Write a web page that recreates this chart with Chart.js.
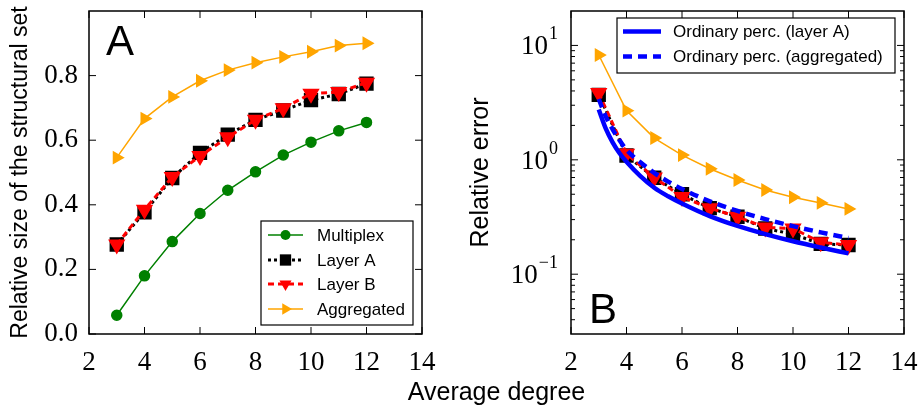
<!DOCTYPE html>
<html>
<head>
<meta charset="utf-8">
<script src="https://cdn.jsdelivr.net/npm/chart.js@4.4.1/dist/chart.umd.min.js"></script>
<style>
  body { margin: 0; background: #fff; }
  #wrap { position: relative; width: 920px; height: 410px; }
  #wrap canvas { position: absolute; top: 0; }
  #left { left: 0; }
  #right { left: 460px; }
  #xtitle { position: absolute; left: 0; width: 993px; top: 377px; text-align: center;
            font: 25px 'Liberation Sans', Arial, sans-serif; line-height: 28px; color: #000; }
</style>
</head>
<body>
<div id="wrap">
  <canvas id="left" width="460" height="410"></canvas>
  <canvas id="right" width="460" height="410"></canvas>
  <div id="xtitle">Average degree</div>
</div>
<script>
// panel A: relative size of the structural set
const degrees = [3, 4, 5, 6, 7, 8, 9, 10, 11, 12];
const sizeMultiplex = [0.058, 0.180, 0.286, 0.373, 0.445, 0.502, 0.554, 0.594, 0.629, 0.655];
const sizeLayerA = [0.277, 0.377, 0.483, 0.561, 0.617, 0.663, 0.692, 0.724, 0.743, 0.775];
const sizeLayerB = [0.277, 0.385, 0.486, 0.551, 0.609, 0.663, 0.699, 0.744, 0.749, 0.778];
const sizeAggregated = [0.546, 0.667, 0.734, 0.784, 0.817, 0.840, 0.858, 0.874, 0.893, 0.900];

// panel B: relative error
const errLayerA = [3.70, 1.09, 0.697, 0.500, 0.378, 0.318, 0.251, 0.224, 0.184, 0.180];
const errLayerB = [3.83, 1.13, 0.700, 0.474, 0.378, 0.318, 0.256, 0.251, 0.190, 0.180];
const errAggregated = [8.25, 2.69, 1.55, 1.10, 0.835, 0.666, 0.545, 0.471, 0.420, 0.372];
// ordinary percolation curves
const ordDegrees = [3, 3.25, 3.5, 3.75, 4, 4.5, 5, 5.5, 6, 7, 8, 9, 10, 11, 12];
const ordLayerA = [2.75, 1.88, 1.42, 1.14, 0.96, 0.72, 0.57, 0.48, 0.415, 0.322, 0.264, 0.224, 0.194, 0.171, 0.152];
const ordAggregated = [3.40, 2.40, 1.85, 1.48, 1.22, 0.95, 0.77, 0.645, 0.556, 0.434, 0.357, 0.303, 0.263, 0.232, 0.207];

// tick labels
const sizeTicks = [0.0, 0.2, 0.4, 0.6, 0.8];
const errorTicks = [0.1, 1, 10];
const errorTickExps = ['\u22121', '0', '1'];

const serif = '"Liberation Serif", "DejaVu Serif", "Times New Roman", serif';
const sans = '"Liberation Sans", Arial, sans-serif';

const pts = (xs, ys) => xs.map((x, i) => ({ x: x, y: ys[i] }));

function drawMarker(ctx, ds, x, y) {
  const r = ds.pointRadius;
  if (!r) return;
  ctx.fillStyle = ds.pointBackgroundColor || ds.borderColor;
  ctx.setLineDash([]);
  ctx.beginPath();
  if (ds.pointStyle === 'circle') {
    ctx.arc(x, y, r, 0, Math.PI * 2);
  } else if (ds.pointStyle === 'rect') {
    const s = r * Math.SQRT1_2;
    ctx.rect(x - s, y - s, 2 * s, 2 * s);
  } else {
    let a = (ds.pointRotation || 0) * Math.PI / 180;
    for (let k = 0; k < 3; k++) {
      const px = x + Math.sin(a) * r, py = y - Math.cos(a) * r;
      k ? ctx.lineTo(px, py) : ctx.moveTo(px, py);
      a += Math.PI * 2 / 3;
    }
    ctx.closePath();
  }
  ctx.fill();
}

const framePlugin = {
  id: 'frame',
  afterDatasetsDraw(chart, args, opts) {
    const { ctx, chartArea: a } = chart;
    const xs = chart.scales.x, ys = chart.scales.y;
    const seg = (x0, y0, x1, y1) => { ctx.beginPath(); ctx.moveTo(x0, y0); ctx.lineTo(x1, y1); ctx.stroke(); };
    ctx.save();
    ctx.strokeStyle = '#000';
    ctx.lineWidth = 1;
    xs.ticks.forEach(t => {
      const p = xs.getPixelForValue(t.value);
      seg(p, a.bottom, p, a.bottom - 7); seg(p, a.top, p, a.top + 7);
    });
    opts.major.forEach(v => {
      const p = ys.getPixelForValue(v);
      seg(a.left, p, a.left + 7, p); seg(a.right, p, a.right - 7, p);
    });
    if (opts.logMinor) {
      for (let e = -2; e <= 1; e++) {
        for (let m = 2; m <= 9; m++) {
          const v = m * Math.pow(10, e);
          if (v <= ys.min || v >= ys.max) continue;
          const p = ys.getPixelForValue(v);
          seg(a.left, p, a.left + 4, p); seg(a.right, p, a.right - 4, p);
        }
      }
    }
    ctx.lineWidth = 1.5;
    ctx.strokeRect(a.left, a.top, a.width, a.height);

    ctx.fillStyle = '#000';
    if (opts.logLabels) {
      ctx.textAlign = 'right';
      ctx.textBaseline = 'alphabetic';
      errorTicks.forEach((v, i) => {
        const p = ys.getPixelForValue(v);
        const right = a.left - 13;
        ctx.font = '18px ' + serif;
        const w = ctx.measureText(errorTickExps[i]).width;
        ctx.fillText(errorTickExps[i], right, p - 6);
        ctx.font = '27px ' + serif;
        ctx.fillText('10', right - w - 1, p + 9);
      });
    }

    // panel letter
    const L = opts.letter;
    ctx.font = '42px ' + sans;
    ctx.textAlign = 'left';
    ctx.textBaseline = 'alphabetic';
    ctx.fillText(L.text, L.x, L.y);

    // legend
    const lg = opts.legend;
    const [bl, bt, br, bb] = lg.box;
    ctx.fillStyle = '#fff';
    ctx.fillRect(bl, bt, br - bl, bb - bt);
    ctx.lineWidth = 1.2;
    ctx.strokeStyle = '#000';
    ctx.setLineDash([]);
    ctx.strokeRect(bl, bt, br - bl, bb - bt);
    lg.entries.forEach((di, i) => {
      const ds = chart.data.datasets[di];
      const y = lg.rows[i];
      ctx.strokeStyle = ds.borderColor;
      ctx.lineWidth = ds.borderWidth;
      ctx.setLineDash(ds.borderDash || []);
      seg(lg.sample[0], y, lg.sample[1], y);
      drawMarker(ctx, ds, (lg.sample[0] + lg.sample[1]) / 2, y);
      ctx.fillStyle = '#000';
      ctx.font = '17px ' + sans;
      ctx.textAlign = 'left';
      ctx.textBaseline = 'middle';
      ctx.fillText(ds.label, lg.textX, y + 1);
    });
    ctx.restore();
  }
};

// keep the plot box exactly where the reference has it
function noEdgePadding(s) {
  s.paddingTop = 0; s.paddingBottom = 0; s.paddingLeft = 0; s.paddingRight = 0;
}

function xScale() {
  return {
    type: 'linear', min: 2, max: 14,
    ticks: { stepSize: 2, color: '#000', font: { family: serif, size: 27 }, padding: 5, maxRotation: 0 },
    grid: { display: false },
    border: { display: false },
    afterFit: s => { s.height = 76; noEdgePadding(s); }
  };
}

const common = {
  responsive: false,
  animation: false,
  devicePixelRatio: 1,
  events: [],
  elements: { line: { tension: 0 }, point: { borderWidth: 1 } }
};

new Chart(document.getElementById('left'), {
  type: 'line',
  data: {
    datasets: [
      { label: 'Multiplex', data: pts(degrees, sizeMultiplex), borderColor: '#008000', backgroundColor: '#008000',
        pointBackgroundColor: '#008000', borderWidth: 1.5, pointStyle: 'circle', pointRadius: 5, order: 4 },
      { label: 'Layer A', data: pts(degrees, sizeLayerA), borderColor: '#000000', backgroundColor: '#000000',
        pointBackgroundColor: '#000000', borderWidth: 3, borderDash: [3, 3], pointStyle: 'rect', pointRadius: 8, order: 3 },
      { label: 'Layer B', data: pts(degrees, sizeLayerB), borderColor: '#ff0000', backgroundColor: '#ff0000',
        pointBackgroundColor: '#ff0000', borderWidth: 3, borderDash: [6, 4], pointStyle: 'triangle', pointRotation: 180, pointRadius: 7, order: 2 },
      { label: 'Aggregated', data: pts(degrees, sizeAggregated), borderColor: '#ffa500', backgroundColor: '#ffa500',
        pointBackgroundColor: '#ffa500', borderWidth: 1.5, pointStyle: 'triangle', pointRotation: 90, pointRadius: 6.5, order: 1 }
    ]
  },
  options: Object.assign({}, common, {
    layout: { padding: { left: 0, right: 38, top: 8, bottom: 0 } },
    plugins: {
      legend: { display: false }, tooltip: { enabled: false },
      frame: {
        major: sizeTicks,
        letter: { text: 'A', x: 106, y: 55 },
        legend: { box: [261, 221, 413, 325], rows: [235, 260, 284, 309], sample: [268, 303], textX: 317, entries: [0, 1, 2, 3] }
      }
    },
    scales: {
      x: xScale(),
      y: {
        type: 'linear', min: 0, max: 1.0,
        afterBuildTicks: s => { s.ticks = sizeTicks.map(v => ({ value: v })); },
        ticks: { color: '#000', font: { family: serif, size: 27 }, padding: 3, callback: v => v.toFixed(1) },
        grid: { display: false },
        border: { display: false },
        title: { display: true, text: 'Relative size of the structural set', color: '#000',
                 font: { family: sans, size: 23 }, padding: { top: 7, bottom: 0 } },
        afterFit: s => { s.width = 89; noEdgePadding(s); }
      }
    }
  }),
  plugins: [framePlugin]
});

new Chart(document.getElementById('right'), {
  type: 'line',
  data: {
    datasets: [
      { label: 'Layer A', data: pts(degrees, errLayerA), borderColor: '#000000', backgroundColor: '#000000',
        pointBackgroundColor: '#000000', borderWidth: 3, borderDash: [3, 3], pointStyle: 'rect', pointRadius: 8, order: 4 },
      { label: 'Layer B', data: pts(degrees, errLayerB), borderColor: '#ff0000', backgroundColor: '#ff0000',
        pointBackgroundColor: '#ff0000', borderWidth: 3, borderDash: [6, 4], pointStyle: 'triangle', pointRotation: 180, pointRadius: 7, order: 3 },
      { label: 'Aggregated', data: pts(degrees, errAggregated), borderColor: '#ffa500', backgroundColor: '#ffa500',
        pointBackgroundColor: '#ffa500', borderWidth: 1.5, pointStyle: 'triangle', pointRotation: 90, pointRadius: 6.5, order: 2 },
      { label: 'Ordinary perc. (layer A)', data: pts(ordDegrees, ordLayerA), borderColor: '#0000ff',
        borderWidth: 4.5, pointRadius: 0, cubicInterpolationMode: 'monotone', order: 1 },
      { label: 'Ordinary perc. (aggregated)', data: pts(ordDegrees, ordAggregated), borderColor: '#0000ff',
        borderWidth: 4.5, borderDash: [9, 6], pointRadius: 0, cubicInterpolationMode: 'monotone', order: 0 }
    ]
  },
  options: Object.assign({}, common, {
    layout: { padding: { left: 0, right: 16, top: 8, bottom: 0 } },
    plugins: {
      legend: { display: false }, tooltip: { enabled: false },
      frame: {
        major: errorTicks,
        logMinor: true,
        logLabels: true,
        letter: { text: 'B', x: 129, y: 323 },
        legend: { box: [157, 18, 435, 73], rows: [31.5, 56.5], sample: [163, 201], textX: 213, entries: [3, 4] }
      }
    },
    scales: {
      x: xScale(),
      y: {
        type: 'logarithmic', min: 0.03, max: 20,
        ticks: { display: false },
        grid: { display: false },
        border: { display: false },
        title: { display: true, text: 'Relative error', color: '#000',
                 font: { family: sans, size: 25 }, padding: { top: 6, bottom: 0 } },
        afterFit: s => { s.width = 111; noEdgePadding(s); }
      }
    }
  }),
  plugins: [framePlugin]
});
</script>
</body>
</html>
